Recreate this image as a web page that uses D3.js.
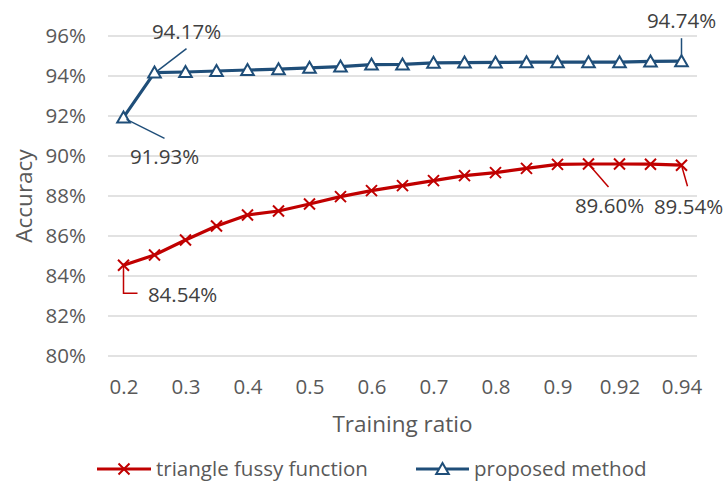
<!DOCTYPE html>
<html>
<head>
<meta charset="utf-8">
<script src="https://cdn.jsdelivr.net/npm/d3@7/dist/d3.min.js"></script>
<style>
  html, body { margin: 0; padding: 0; background: #fff; }
  svg { display: block; font-family: "Open Sans", "Noto Sans", sans-serif; }
</style>
</head>
<body>
<svg id="chart" width="724" height="482"></svg>
<script>
// Training ratios (category axis)
const ratios = ["0.2", "0.25", "0.3", "0.35", "0.4", "0.45", "0.5", "0.55", "0.6", "0.65",
                "0.7", "0.75", "0.8", "0.85", "0.9", "0.91", "0.92", "0.93", "0.94"];
// Only every other category carries a tick label
const tickLabels = ["0.2", "0.3", "0.4", "0.5", "0.6", "0.7", "0.8", "0.9", "0.92", "0.94"];
const yTicks = [80, 82, 84, 86, 88, 90, 92, 94, 96];

// Accuracy (%) per training ratio
const fuzzyValues = [84.54, 85.05, 85.80, 86.50, 87.05, 87.25, 87.60, 87.97, 88.27, 88.52,
                     88.77, 89.02, 89.17, 89.38, 89.58, 89.60, 89.60, 89.59, 89.54];
const proposedValues = [91.93, 94.17, 94.20, 94.25, 94.30, 94.34, 94.41, 94.47, 94.57, 94.58,
                        94.66, 94.67, 94.68, 94.69, 94.69, 94.69, 94.69, 94.73, 94.74];

const seriesNames = ["triangle fussy function", "proposed method"];
const colors = ["#C00000", "#1F4E79"];

// Data labels: which point, where the text sits relative to it, and the leader path
const fuzzyLabels = [
  { i: 0,  dx: 59, dy: 37, anchor: "middle", leader: [[0, 0], [0, 28], [14, 28]] },
  { i: 15, dx: 21, dy: 49, anchor: "middle", leader: [[0, 0], [20, 23]] },
  { i: 18, dx: 7,  dy: 49, anchor: "middle", leader: [[0, 0], [6, 21]] }
];
const proposedLabels = [
  { i: 0,  dx: 41, dy: 47, anchor: "middle", leader: [[3, 2], [41, 21]] },
  { i: 1,  dx: 32, dy: -34, anchor: "middle", leader: [[2, -1], [32, -24]] },
  { i: 18, dx: 0,  dy: -33, anchor: "middle", leader: [[0, -6], [0, -23]] }
];

const svg = d3.select("#chart");
const textColor = "#595959";
const plot = { left: 108, right: 697, top: 36, bottom: 356 };

const x = d3.scalePoint().domain(ratios).range([plot.left, plot.right]).padding(0.5);
const y = d3.scaleLinear().domain([80, 96]).range([plot.bottom, plot.top]);

// Horizontal gridlines
svg.append("g")
  .selectAll("line")
  .data(yTicks)
  .join("line")
  .attr("x1", plot.left).attr("x2", plot.right)
  .attr("y1", d => y(d)).attr("y2", d => y(d))
  .attr("stroke", "#D9D9D9").attr("stroke-width", 1.3);

// Y axis labels
const yAxis = svg.append("g")
  .attr("transform", `translate(${plot.left - 22},0)`)
  .call(d3.axisLeft(y).tickValues(yTicks).tickFormat(d => d + "%").tickSize(0).tickPadding(0));
yAxis.select(".domain").remove();
yAxis.selectAll("text")
  .attr("fill", textColor).style("font-size", "20.5px")
  .style("font-family", "'Open Sans', sans-serif");

// X axis labels
const xAxis = svg.append("g")
  .attr("transform", `translate(0,${plot.bottom + 23})`)
  .call(d3.axisBottom(x).tickValues(tickLabels).tickSize(0).tickPadding(0));
xAxis.select(".domain").remove();
xAxis.selectAll("text")
  .attr("fill", textColor).style("font-size", "20.5px")
  .style("font-family", "'Open Sans', sans-serif");

// Axis titles
svg.append("text")
  .attr("x", (plot.left + plot.right) / 2).attr("y", 432)
  .attr("text-anchor", "middle").attr("fill", textColor)
  .style("font-size", "22.5px").text("Training ratio");

svg.append("text")
  .attr("transform", `translate(32,${(plot.top + plot.bottom) / 2}) rotate(-90)`)
  .attr("text-anchor", "middle").attr("fill", textColor)
  .style("font-size", "22.5px").text("Accuracy");

// Marker shapes
function drawCross(g, cx, cy, color) {
  const s = 5.5;
  g.append("path")
    .attr("d", `M${cx - s},${cy - s}L${cx + s},${cy + s}M${cx - s},${cy + s}L${cx + s},${cy - s}`)
    .attr("stroke", color).attr("stroke-width", 2).attr("fill", "none");
}
function drawTriangle(g, cx, cy, color) {
  g.append("path")
    .attr("d", `M${cx},${cy - 6}L${cx + 6.3},${cy + 5}L${cx - 6.3},${cy + 5}Z`)
    .attr("stroke", color).attr("stroke-width", 2).attr("fill", "#fff")
    .attr("stroke-linejoin", "miter");
}

const line = d3.line().x((d, i) => x(ratios[i])).y(d => y(d));

const series = [
  { values: fuzzyValues, color: colors[0], marker: drawCross, labels: fuzzyLabels },
  { values: proposedValues, color: colors[1], marker: drawTriangle, labels: proposedLabels }
];

series.forEach(s => {
  const g = svg.append("g");
  g.append("path")
    .datum(s.values)
    .attr("d", line)
    .attr("fill", "none").attr("stroke", s.color)
    .attr("stroke-width", 3.2).attr("stroke-linejoin", "round");
  s.values.forEach((v, i) => s.marker(g, x(ratios[i]), y(v), s.color));
});

// Data labels with leader lines
series.forEach(s => {
  const g = svg.append("g");
  s.labels.forEach(l => {
    const px = x(ratios[l.i]);
    const py = y(s.values[l.i]);
    g.append("path")
      .attr("d", d3.line()(l.leader.map(p => [px + p[0], py + p[1]])))
      .attr("fill", "none").attr("stroke", s.color).attr("stroke-width", 1.5);
    g.append("text")
      .attr("x", px + l.dx).attr("y", py + l.dy)
      .attr("text-anchor", l.anchor).attr("fill", "#404040")
      .style("font-size", "20.5px")
      .text(s.values[l.i].toFixed(2) + "%");
  });
});

// Legend
const legend = svg.append("g");
const legendItems = [
  { x0: 97, x1: 151, tx: 156, color: colors[0], marker: drawCross, name: seriesNames[0] },
  { x0: 416, x1: 469, tx: 474, color: colors[1], marker: drawTriangle, name: seriesNames[1] }
];
const legendY = 469;
legendItems.forEach(it => {
  legend.append("line")
    .attr("x1", it.x0).attr("x2", it.x1)
    .attr("y1", legendY).attr("y2", legendY)
    .attr("stroke", it.color).attr("stroke-width", 3.2);
  it.marker(legend, (it.x0 + it.x1) / 2, legendY, it.color);
  legend.append("text")
    .attr("x", it.tx).attr("y", legendY + 7)
    .attr("fill", textColor).style("font-size", "20.5px")
    .text(it.name);
});
</script>
</body>
</html>
